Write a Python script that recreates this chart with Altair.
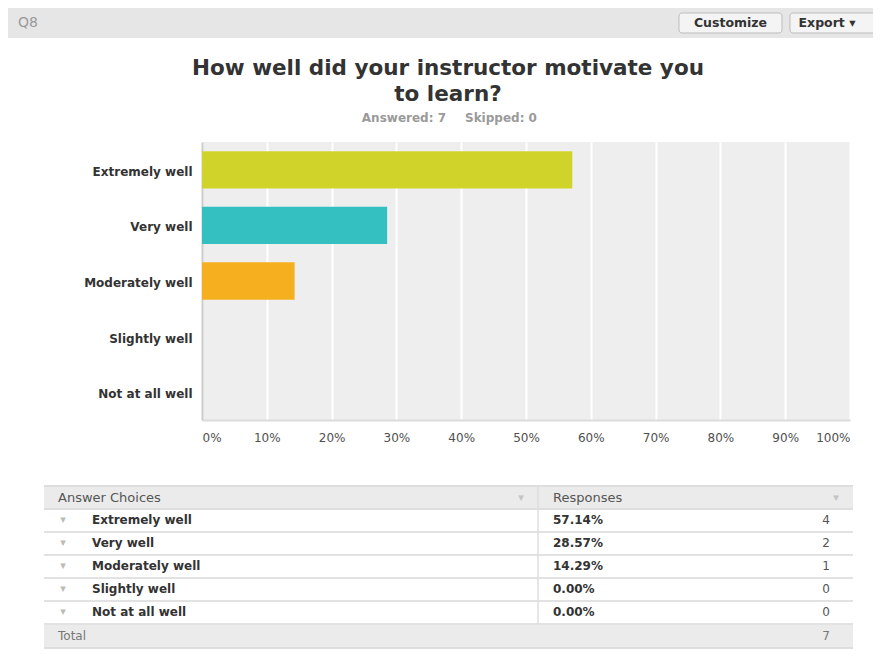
import altair as alt
import pandas as pd

FONT = "DejaVu Sans"

# ---- data ----
question_id = "Q8"
title_lines = ["How well did your instructor motivate you", "to learn?"]
categories = ["Extremely well", "Very well", "Moderately well", "Slightly well", "Not at all well"]
percents = [57.14, 28.57, 14.29, 0.00, 0.00]
counts = [4, 2, 1, 0, 0]
skipped = 0
bar_colors = ["#d0d42a", "#34bfc1", "#f6af1f", "#8e6fb2", "#e2566b"]
x_ticks = [0, 10, 20, 30, 40, 50, 60, 70, 80, 90, 100]
buttons = ["Customize", "Export \u25be"]
table_headers = ["Answer Choices", "Responses"]
total_label = "Total"
ARROW = "\u25be"

answered = sum(counts)
df = pd.DataFrame({
    "Answer": categories,
    "Pct": percents,
    "Count": [str(c) for c in counts],
    "PctLabel": [f"{p:.2f}%" for p in percents],
})
one = pd.DataFrame({"k": [0]})

W, H = 648, 278


def text(t, x, y, size, color, weight="normal", align="left", baseline="middle", **kw):
    return alt.Chart(pd.DataFrame({"t": [t]})).mark_text(
        align=align, baseline=baseline, font=FONT, fontSize=size,
        fontWeight=weight, color=color, **kw,
    ).encode(x=alt.value(x), y=alt.value(y), text="t:N")


def box(x, x2, y, y2, fill, stroke=None, r=0):
    kw = dict(fill=fill, cornerRadius=r)
    if stroke:
        kw.update(stroke=stroke, strokeWidth=1)
    return alt.Chart(one).mark_rect(**kw).encode(
        x=alt.value(x), x2=alt.value(x2), y=alt.value(y), y2=alt.value(y2))


def hline(x, x2, y, color="#dedede", w=2):
    return alt.Chart(one).mark_rule(color=color, strokeWidth=w).encode(
        x=alt.value(x), x2=alt.value(x2), y=alt.value(y))


def vline(x, y, y2, color="#dedede", w=1.5):
    return alt.Chart(one).mark_rule(color=color, strokeWidth=w).encode(
        x=alt.value(x), y=alt.value(y), y2=alt.value(y2))


decor = [
    # header strip
    box(-194, 671, -134, -104, "#e6e6e6"),
    text(question_id, -184, -119, 14, "#9a9a9a"),
    box(477, 580, -129, -109, "#f4f4f4", stroke="#bdbdbd", r=3),
    text(buttons[0], 528.5, -119, 12.5, "#333333", "bold", "center"),
    box(588, 677, -129, -109, "#f4f4f4", stroke="#bdbdbd", r=3),
    text(buttons[1], 625, -119, 12.5, "#333333", "bold", "center"),
    # title (one multi-line text)
    text("\n".join(title_lines), 246, -67, 21.5, "#333333", "bold", "center",
         baseline="alphabetic", lineBreak="\n", lineHeight=25.5),
    text(f"Answered: {answered}", 244, -24, 12, "#9a9a9a", "bold", "right"),
    text(f"Skipped: {skipped}", 263, -24, 12, "#9a9a9a", "bold", "left"),
]

bars = alt.Chart(df).mark_bar().encode(
    x=alt.X("Pct:Q", scale=alt.Scale(domain=[0, 100], nice=False, zero=True),
            axis=alt.Axis(values=x_ticks, labelExpr="datum.value + '%'", title=None,
                          grid=True, gridColor="#ffffff", gridWidth=2, ticks=False,
                          domainColor="#dcdcdc", domainWidth=2, labelFlush=True,
                          labelPadding=12, labelFont=FONT, labelFontSize=12,
                          labelColor="#505050")),
    y=alt.Y("Answer:N", sort=categories,
            scale=alt.Scale(domain=categories, paddingInner=0.33, paddingOuter=0.165),
            axis=alt.Axis(title=None, ticks=False, domainColor="#cccccc", domainWidth=2,
                          labelPadding=10, labelOffset=2, labelFont=FONT, labelFontSize=12,
                          labelFontWeight="bold", labelColor="#333333")),
    color=alt.Color("Answer:N", scale=alt.Scale(domain=categories, range=bar_colors),
                    legend=None),
)

row_y = alt.Y("Answer:N", sort=categories,
              scale=alt.Scale(type="point", domain=categories, range=[378, 470], padding=0),
              axis=None)


def row_text(field, x, align, weight, color, size=12):
    return alt.Chart(df).mark_text(
        align=align, baseline="middle", font=FONT, fontSize=size,
        fontWeight=weight, color=color,
    ).encode(x=alt.value(x), y=row_y, text=f"{field}:N")


separators = alt.Chart(df).mark_rule(color="#e2e2e2", strokeWidth=2).encode(
    x=alt.value(-158), x2=alt.value(651),
    y=alt.Y("Answer:N", sort=categories, bandPosition=1,
            scale=alt.Scale(type="band", domain=categories, range=[367, 482],
                            paddingInner=0, paddingOuter=0),
            axis=None),
)

arrows = alt.Chart(df).mark_text(
    text=ARROW, align="center", baseline="middle", font=FONT, fontSize=11, color="#bbbbbb",
).encode(x=alt.value(-139), y=row_y)

table = [
    box(-158, 651, 344, 367, "#ebebeb"),
    box(-158, 651, 482, 506, "#ebebeb"),
    hline(-158, 651, 344),
    hline(-158, 651, 367),
    separators,
    hline(-158, 651, 506),
    vline(336, 344, 482),
    text(table_headers[0], -144, 355.5, 13, "#555555"),
    text(table_headers[1], 351, 355.5, 13, "#555555"),
    text(ARROW, 319, 355.5, 11, "#c4c4c4", align="center"),
    text(ARROW, 634, 355.5, 11, "#c4c4c4", align="center"),
    arrows,
    row_text("Answer", -110, "left", "bold", "#333333"),
    row_text("PctLabel", 351, "left", "bold", "#333333"),
    row_text("Count", 628, "right", "normal", "#555555"),
    text(total_label, -144, 494, 12, "#777777"),
    text(str(answered), 628, 494, 12, "#777777", align="right"),
]

chart = alt.layer(*decor, bars, *table).resolve_scale(y="independent").properties(
    width=W, height=H,
    padding={"left": 194, "top": 134, "right": 23, "bottom": 239},
    autosize=alt.AutoSizeParams(type="none"),
    background="#ffffff",
).configure_view(fill="#eeeeee", stroke=None)

chart.save("out.html", embed_options={"renderer": "svg", "actions": False})
